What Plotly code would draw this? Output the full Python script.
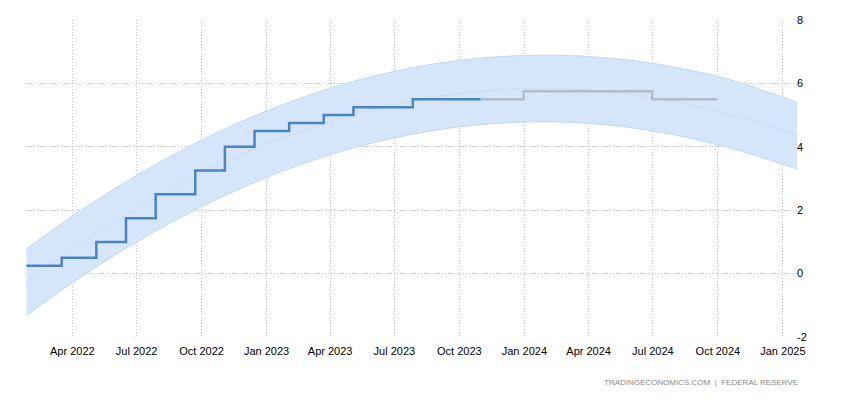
import plotly.graph_objects as go

# Actual policy rate (upper bound), step changes
actual_dates = ["2022-01-26", "2022-03-17", "2022-05-05", "2022-06-16", "2022-07-28",
                "2022-09-22", "2022-11-03", "2022-12-15", "2023-02-02", "2023-03-23",
                "2023-05-04", "2023-07-27", "2023-10-31"]
actual_values = [0.25, 0.5, 1.0, 1.75, 2.5, 3.25, 4.0, 4.5, 4.75, 5.0, 5.25, 5.5, 5.5]

# Forecast
forecast_dates = ["2023-10-31", "2023-12-31", "2024-03-31", "2024-06-30", "2024-09-30"]
forecast_values = [5.5, 5.75, 5.75, 5.5, 5.5]

# Trend band
band_dates = ["2022-01-26", "2022-04-01", "2022-07-01", "2022-10-01", "2023-01-01",
              "2023-04-01", "2023-07-01", "2023-10-01", "2024-01-01", "2024-04-01",
              "2024-07-01", "2024-10-01", "2025-01-01", "2025-01-21"]
band_center = [-0.27, 0.76, 2.05, 3.16, 4.08, 4.80, 5.33, 5.68, 5.83, 5.79, 5.56, 5.12, 4.50, 4.34]
band_upper = [0.78, 1.81, 3.10, 4.21, 5.13, 5.85, 6.38, 6.73, 6.88, 6.85, 6.63, 6.22, 5.57, 5.40]
band_lower = [-1.32, -0.29, 1.00, 2.11, 3.03, 3.75, 4.28, 4.63, 4.78, 4.74, 4.50, 4.06, 3.45, 3.29]

y_ticks = [-2, 0, 2, 4, 6, 8]
y_tick_labels = ["-2", "0", "2", "4", "6", "8"]

fig = go.Figure()

fig.add_trace(go.Scatter(x=band_dates, y=band_lower, mode="lines",
                         line=dict(color="#c3d8f5", width=1, shape="spline"),
                         hoverinfo="skip", showlegend=False))
fig.add_trace(go.Scatter(x=band_dates, y=band_upper, mode="lines",
                         line=dict(color="#c3d8f5", width=1, shape="spline"),
                         fill="tonexty", fillcolor="rgba(214,230,250,1)",
                         hoverinfo="skip", showlegend=False))
fig.add_trace(go.Scatter(x=band_dates, y=band_center, mode="lines",
                         line=dict(color="#bfc6d0", width=1, dash="1px,2px", shape="spline"),
                         hoverinfo="skip", showlegend=False))
fig.add_trace(go.Scatter(x=forecast_dates, y=forecast_values, mode="lines",
                         line=dict(color="#b3bccb", width=2.5, shape="hv"),
                         showlegend=False))
fig.add_trace(go.Scatter(x=actual_dates, y=actual_values, mode="lines",
                         line=dict(color="#4a84c5", width=2.5, shape="hv"),
                         showlegend=False))

fig.update_layout(
    width=850, height=400,
    margin=dict(l=25, r=53, t=20, b=63),
    plot_bgcolor="white", paper_bgcolor="white",
    font=dict(family="Liberation Sans, Arial, sans-serif", size=11, color="#000"),
    showlegend=False,
    xaxis=dict(
        type="date",
        range=["2022-01-24", "2025-01-21"],
        tick0="2022-01-01", dtick="M3", tickformat="%b %Y",
        showgrid=True, gridcolor="#c4c4c4", griddash="1px,2px", gridwidth=1,
        zeroline=False, showline=False, ticks="", ticklabelstandoff=6,
    ),
    yaxis=dict(
        side="right",
        range=[-2, 8],
        tickvals=y_ticks, ticktext=y_tick_labels,
        showgrid=True, gridcolor="#c4c4c4", griddash="1px,2px", gridwidth=1,
        zeroline=False, showline=False, ticks="", ticklabelstandoff=-1,
    ),
    annotations=[dict(
        text="TRADINGECONOMICS.COM  |  FEDERAL RESERVE",
        xref="paper", yref="paper", x=1.0, y=-0.144, xshift=3,
        xanchor="right", yanchor="middle", showarrow=False,
        font=dict(size=8, color="#8a8a8a"),
    )],
)

fig.write_html("out.html")
